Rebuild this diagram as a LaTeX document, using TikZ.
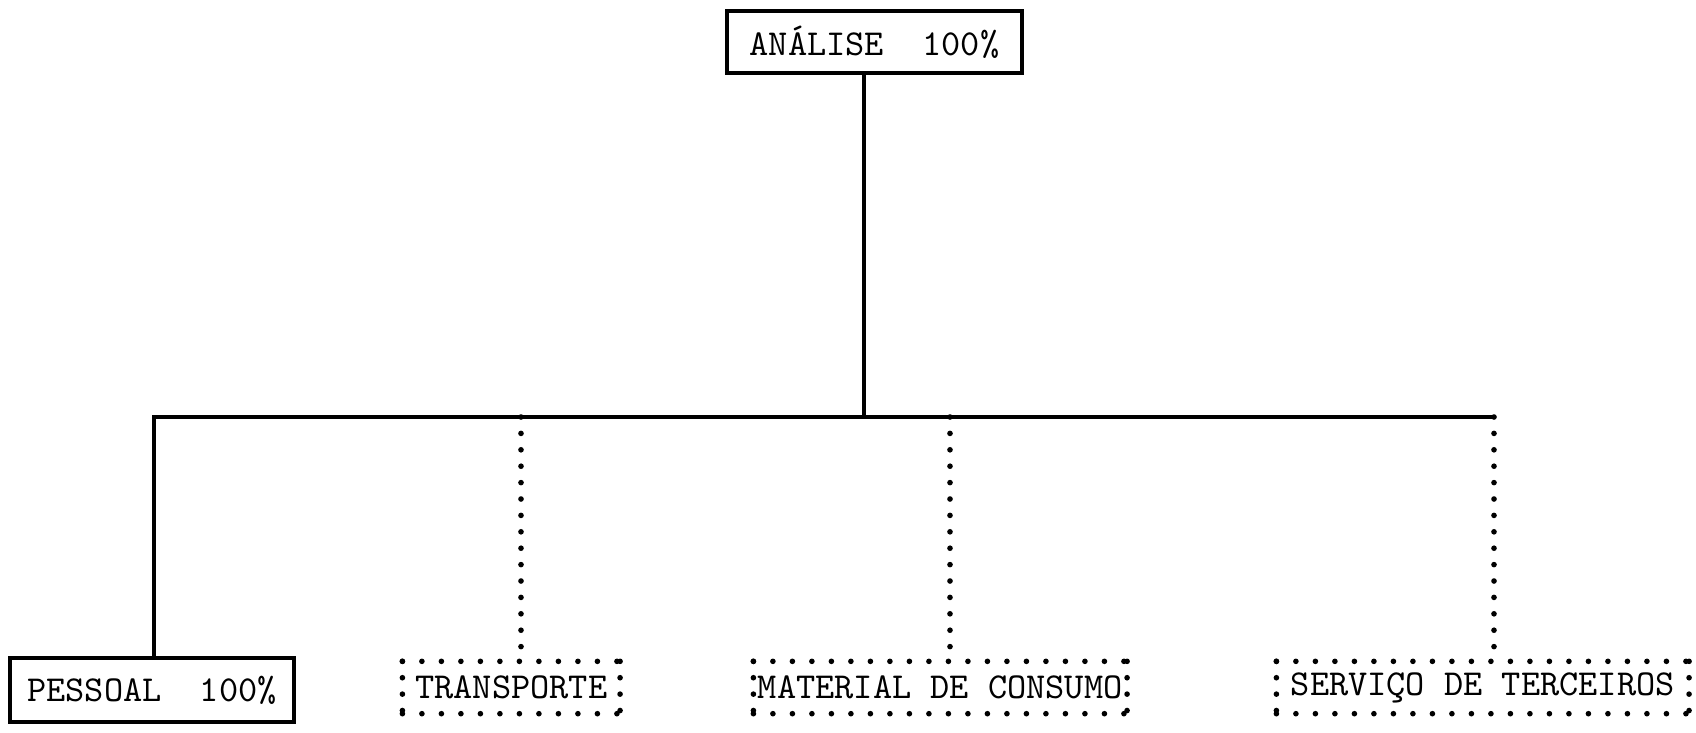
\documentclass[tikz,border=0pt]{standalone}
\usepackage{tikz}
\usetikzlibrary{calc}

\begin{document}
\begin{tikzpicture}[
  card/.style={draw, line width=0.9pt, inner sep=0pt, align=center, font=\fontsize{10.4}{12}\selectfont\ttfamily},
  dotcard/.style={card, draw=none, minimum height=0.492cm},
  link/.style={line width=0.9pt},
  hdots/.style={line width=1.6pt, line cap=round, dash pattern=on 0pt off 0.195cm, shorten >=-0.3pt},
  vdots/.style={line width=1.6pt, line cap=round, dash pattern=on 0pt off 0.164cm, shorten >=-0.3pt}
]
  \useasboundingbox (0,0) rectangle (16.96,7.32);

  % Top: the whole analysis
  \node[card, minimum width=2.95cm, minimum height=0.62cm] at (8.745,6.90) (ana) {ANÁLISE~~100\%};

  % Bottom row: the four items
  \node[card, minimum width=2.84cm, minimum height=0.64cm] at (1.52,0.42)  (pes) {PESSOAL~~100\%};
  \node[dotcard, minimum width=2.145cm]                    at (5.1125,0.445) (tra) {TRANSPORTE};
  \node[dotcard, minimum width=3.705cm]                    at (9.4025,0.445) (mat) {MATERIAL DE CONSUMO};
  \node[dotcard, minimum width=4.095cm]                    at (14.8275,0.445) (ser) {SERVIÇO DE TERCEIROS};

  % Branch points on the bar
  \coordinate (hub)   at (8.64,3.15);
  \coordinate (pdrop) at (1.54,3.15);
  \coordinate (tdrop) at (5.21,3.15);
  \coordinate (mdrop) at (9.50,3.15);
  \coordinate (sdrop) at (14.94,3.15);

  \draw[link] (ana.south -| hub) -- (hub);
  \draw[link] (pes.north -| pdrop) -- (pdrop) -- (sdrop);
  \foreach \d/\n in {tdrop/tra, mdrop/mat, sdrop/ser}
    \draw[vdots] (\d) -- (\d |- \n.north);

  % Dotted frames
  \foreach \n in {tra, mat, ser} {
    \draw[hdots] (\n.north west) -- (\n.north east);
    \draw[hdots] (\n.south west) -- (\n.south east);
    \draw[vdots] (\n.north west) -- (\n.south west);
    \draw[vdots] (\n.north east) -- (\n.south east);
  }
\end{tikzpicture}
\end{document}
